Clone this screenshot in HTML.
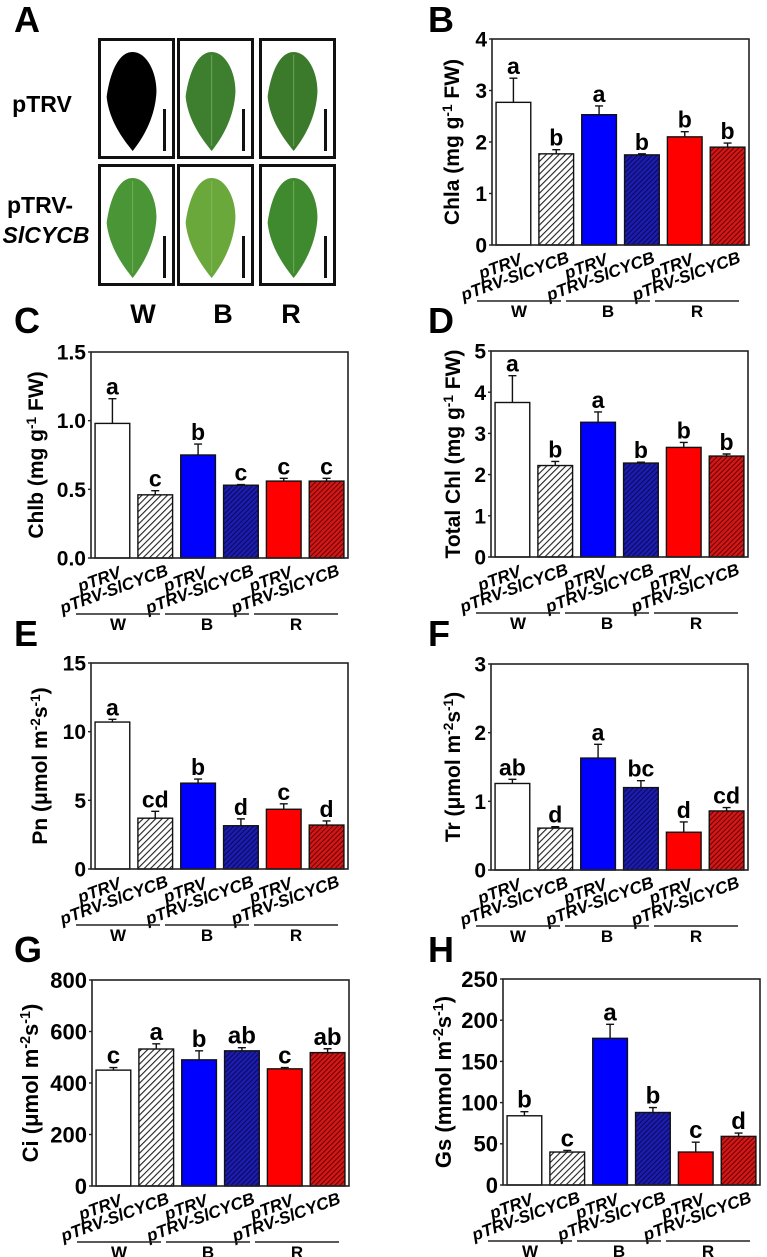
<!DOCTYPE html>
<html><head><meta charset="utf-8"><style>
html,body{margin:0;padding:0;background:#fff;}
svg{display:block;font-family:"Liberation Sans",Arial,sans-serif;}
</style></head><body>
<svg id="fig" width="767" height="1257" viewBox="0 0 767 1257" xmlns="http://www.w3.org/2000/svg">
<defs>
<pattern id="hGray" patternUnits="userSpaceOnUse" width="4.5" height="4.5" patternTransform="rotate(45)"><rect width="4.5" height="4.5" fill="#fff"/><line x1="0.5" y1="0" x2="0.5" y2="4.5" stroke="#222" stroke-width="1.2"/></pattern>
<pattern id="hBlue" patternUnits="userSpaceOnUse" width="3.5" height="3.5" patternTransform="rotate(45)"><rect width="3.5" height="3.5" fill="#1c1cb0"/><line x1="0.5" y1="0" x2="0.5" y2="3.5" stroke="#0a0a55" stroke-width="1"/></pattern>
<pattern id="hRed" patternUnits="userSpaceOnUse" width="3.5" height="3.5" patternTransform="rotate(45)"><rect width="3.5" height="3.5" fill="#d01818"/><line x1="0.5" y1="0" x2="0.5" y2="3.5" stroke="#6a0000" stroke-width="1"/></pattern>
</defs>
<g id="panelA"></g>
<g id="charts"></g>
</svg>
<script>
// ---- data ----
const groups = ["W", "B", "R"];
const categories = ["pTRV", "pTRV-SlCYCB", "pTRV", "pTRV-SlCYCB", "pTRV", "pTRV-SlCYCB"];
const chlaValues = [2.77, 1.77, 2.53, 1.75, 2.1, 1.9];
const chlaErrors = [0.47, 0.08, 0.17, 0.02, 0.1, 0.08];
const chlaLetters = ["a", "b", "a", "b", "b", "b"];
const chlaTicks = ["0", "1", "2", "3", "4"];
const chlbValues = [0.98, 0.46, 0.75, 0.53, 0.56, 0.56];
const chlbErrors = [0.18, 0.03, 0.08, 0.005, 0.02, 0.02];
const chlbLetters = ["a", "c", "b", "c", "c", "c"];
const chlbTicks = ["0.0", "0.5", "1.0", "1.5"];
const totalValues = [3.75, 2.22, 3.27, 2.28, 2.66, 2.45];
const totalErrors = [0.65, 0.1, 0.25, 0.02, 0.12, 0.05];
const totalLetters = ["a", "b", "a", "b", "b", "b"];
const totalTicks = ["0", "1", "2", "3", "4", "5"];
const pnValues = [10.7, 3.7, 6.25, 3.15, 4.35, 3.2];
const pnErrors = [0.2, 0.5, 0.3, 0.5, 0.4, 0.3];
const pnLetters = ["a", "cd", "b", "d", "c", "d"];
const pnTicks = ["0", "5", "10", "15"];
const trValues = [1.26, 0.61, 1.63, 1.2, 0.55, 0.86];
const trErrors = [0.06, 0.02, 0.2, 0.1, 0.15, 0.05];
const trLetters = ["ab", "d", "a", "bc", "d", "cd"];
const trTicks = ["0", "1", "2", "3"];
const ciValues = [450, 532, 490, 525, 455, 518];
const ciErrors = [10, 20, 35, 12, 5, 15];
const ciLetters = ["c", "a", "b", "ab", "c", "ab"];
const ciTicks = ["0", "200", "400", "600", "800"];
const gsValues = [84, 40, 178, 88, 40, 59];
const gsErrors = [5, 2, 17, 6, 12, 4];
const gsLetters = ["b", "c", "a", "b", "c", "d"];
const gsTicks = ["0", "50", "100", "150", "200", "250"];

const NS = "http://www.w3.org/2000/svg";
function mk(tag, attrs, parent) {
  const e = document.createElementNS(NS, tag);
  for (const k in attrs) e.setAttribute(k, attrs[k]);
  if (parent) parent.appendChild(e);
  return e;
}
const fills = ["#ffffff", "url(#hGray)", "#0000ff", "url(#hBlue)", "#ff0000", "url(#hRed)"];

const panels = [
  {id:"B", name:"chla", x:492, y:39, vals:chlaValues, errs:chlaErrors, lets:chlaLetters, ticks:chlaTicks, max:4, title:["Chla (mg g","-1"," FW)"], tdx:33, fs:21, lx:428, ly:32},
  {id:"C", name:"chlb", x:91, y:352, vals:chlbValues, errs:chlbErrors, lets:chlbLetters, ticks:chlbTicks, max:1.5, title:["Chlb (mg g","-1"," FW)"], tdx:48, fs:21, lx:14, ly:333},
  {id:"D", name:"total-chl", x:491, y:351, vals:totalValues, errs:totalErrors, lets:totalLetters, ticks:totalTicks, max:5, title:["Total Chl (mg g","-1"," FW)"], tdx:31, fs:21, lx:428, ly:333},
  {id:"E", name:"pn", x:91, y:663, vals:pnValues, errs:pnErrors, lets:pnLetters, ticks:pnTicks, max:15, title:["Pn (\u03bcmol m","-2","s","-1",")"], tdx:44, fs:21, lx:14, ly:646},
  {id:"F", name:"tr", x:491, y:664, vals:trValues, errs:trErrors, lets:trLetters, ticks:trTicks, max:3, title:["Tr (\u03bcmol m","-2","s","-1",")"], tdx:31, fs:21, lx:428, ly:646},
  {id:"G", name:"ci", x:92, y:980, vals:ciValues, errs:ciErrors, lets:ciLetters, ticks:ciTicks, max:800, title:["Ci (\u03bcmol m","-2","s","-1",")"], tdx:54, fs:22, lx:14, ly:962},
  {id:"H", name:"gs", x:503, y:979, vals:gsValues, errs:gsErrors, lets:gsLetters, ticks:gsTicks, max:250, title:["Gs (mmol m","-2","s","-1",")"], tdx:52, fs:22, lx:428, ly:962}
];
const W = 257, H = 206;
const root = document.getElementById("charts");

panels.forEach(p => {
  const g = mk("g", {}, root);
  
  
  const yScale = v => p.y + H - (v / p.max) * H;
  const band = W / categories.length;
  const bw = band * 0.81;
  const xScale = i => p.x + i * band + (band - bw) / 2;

  const lab = mk("text", {x:p.lx, y:p.ly, "font-size":36, "font-weight":"bold"}, g);
  lab.textContent = p.id;
  
  

  p.vals.forEach((v, i) => {
    const x = xScale(i), yt = yScale(v);
    const r = mk("rect", {x:x, y:yt, width:bw, height:p.y + H - yt, fill:fills[i], stroke:"#111", "stroke-width":1.4}, g);
    
    
    const ye = yScale(v + p.errs[i]);
    const cx = x + bw / 2;
    const eb = mk("path", {d:`M${cx},${yt} V${ye} M${cx-4},${ye} H${cx+4}`, stroke:"#111", "stroke-width":1.4, fill:"none"}, g);
    
    
    const lt = mk("text", {x:cx, y:ye - 4, "font-size":p.fs + 2, "font-weight":"bold", "text-anchor":"middle"}, g);
    lt.textContent = p.lets[i];
    
    
  });

  const fr = mk("rect", {x:p.x, y:p.y, width:W, height:H, fill:"none", stroke:"#222", "stroke-width":1.6}, g);
  
  

  p.ticks.forEach(t => {
    const yy = yScale(parseFloat(t));
    mk("line", {x1:p.x - 3, x2:p.x, y1:yy, y2:yy, stroke:"#222", "stroke-width":1.4}, g);
    const tt = mk("text", {x:p.x - 5, y:yy + p.fs * 0.36, "font-size":p.fs, "font-weight":"bold", "text-anchor":"end"}, g);
    tt.textContent = t;
    
    
  });

  const tx = p.x - p.tdx, ty = p.y + H / 2;
  const yt = mk("text", {x:tx, y:ty, "font-size":p.fs, "font-weight":"bold", "text-anchor":"middle", transform:`rotate(-90 ${tx} ${ty})`}, g);
  
  
  p.title.forEach((s, k) => {
    const ts = mk("tspan", {}, yt);
    if (k % 2 === 1) { ts.setAttribute("font-size", p.fs * 0.65); ts.setAttribute("baseline-shift", "super"); }
    ts.textContent = s;
  });

  categories.forEach((c, i) => {
    const cx = xScale(i) + bw / 2;
    const long = c.indexOf("-") > 0;
    const ex = long ? cx + 14 : p.x + i * band + band * 0.35 + 16;
    const ey = p.y + H + (long ? 17 : 19);
    const xl = mk("text", {x:ex, y:ey, "font-size":17, "font-weight":"bold", "font-style":"italic", "text-anchor":"end", transform:`rotate(-20 ${ex} ${ey})`}, g);
    if (long) { xl.textContent = "pTRV-"; const s = mk("tspan", {}, xl); s.textContent = "SlCYCB"; }
    else xl.textContent = c;
    
    
  });

  groups.forEach((gr, k) => {
    const x0 = p.x - 15 + k * 89;
    const ly = p.y + H + 56;
    mk("line", {x1:x0, x2:x0 + 84, y1:ly, y2:ly, stroke:"#222", "stroke-width":1.4}, g);
    const gt = mk("text", {x:x0 + 42, y:ly + 16, "font-size":17, "font-weight":"bold", "text-anchor":"middle"}, g);
    gt.textContent = gr;
    
    
  });
});

// ---- panel A ----
const A = document.getElementById("panelA");
const aLab = mk("text", {x:14, y:32, "font-size":36, "font-weight":"bold"}, A);
aLab.textContent = "A";
const rowLabels = [["pTRV", 42, 112], ["pTRV-", 40, 213], ["SlCYCB", 46, 243]];
rowLabels.forEach((r, k) => {
  const t = mk("text", {x:r[1], y:r[2], "font-size":23, "font-weight":"bold", "text-anchor":"middle"}, A);
  if (k === 2) t.setAttribute("font-style", "italic");
  t.textContent = r[0];
  
  
});
const boxX = [98, 177, 259];
const boxY = [[38, 121], [164, 122]];
const leafCol = [["#000000", "#3d7f2e", "#3b7a2b"], ["#4a9535", "#6aa83c", "#3f8a2f"]];
boxY.forEach((by, r) => {
  boxX.forEach((bx, c) => {
    const bw = 77, bh = by[1];
    const bxr = mk("rect", {x:bx + 1.5, y:by[0] + 1.5, width:bw - 3, height:bh - 3, fill:"#fff", stroke:"#111", "stroke-width":3}, A);
    
    
    const cx = bx + bw * 0.45, top = by[0] + 14, bot = by[0] + bh - 8, hw = 26;
    const d = `M${cx},${top} C${cx+hw*0.6},${top} ${cx+hw},${top+25} ${cx+hw*0.9},${top+45} C${cx+hw*0.8},${top+70} ${cx+8},${bot-10} ${cx},${bot} C${cx-8},${bot-10} ${cx-hw*0.9},${top+70} ${cx-hw},${top+45} C${cx-hw*0.9},${top+25} ${cx-hw*0.6},${top} ${cx},${top} Z`;
    mk("path", {d:d, fill:leafCol[r][c]}, A);
    if (!(r === 0 && c === 0)) mk("line", {x1:cx, x2:cx, y1:top + 3, y2:bot - 5, stroke:"#8fc070", "stroke-width":1, opacity:0.6}, A);
    mk("rect", {x:bx + bw - 12, y:by[0] + bh - 50, width:3, height:42, fill:"#111"}, A);
  });
});
[["W", 143], ["B", 223], ["R", 291]].forEach(l => {
  const t = mk("text", {x:l[1], y:323, "font-size":27, "font-weight":"bold", "text-anchor":"middle"}, A);
  t.textContent = l[0];
  
  
});
</script>
</body></html>
